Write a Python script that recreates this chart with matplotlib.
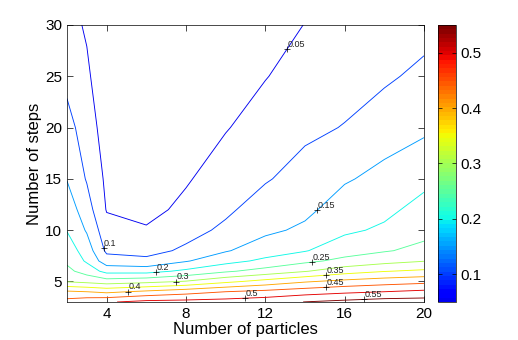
import numpy as np
import matplotlib.pyplot as plt
from matplotlib.colors import Normalize, ListedColormap
from matplotlib.cm import ScalarMappable

plt.rcParams['font.family'] = ['Liberation Sans', 'DejaVu Sans']

# grid
particles = [2, 3, 4, 6, 8, 10, 12, 14, 16, 18, 20]
steps = [3, 4, 5, 6, 7, 8, 10, 12, 15, 20, 25, 30]

# error value per row of steps, one entry per particle count
err_s3 = [0.470, 0.485, 0.495, 0.514, 0.517, 0.521, 0.530, 0.551, 0.563, 0.574, 0.575]
err_s4 = [0.407, 0.400, 0.389, 0.410, 0.430, 0.450, 0.463, 0.477, 0.490, 0.500, 0.511]
err_s5 = [0.296, 0.286, 0.273, 0.285, 0.303, 0.338, 0.367, 0.395, 0.413, 0.426, 0.436]
err_s6 = [0.263, 0.229, 0.184, 0.182, 0.211, 0.243, 0.269, 0.297, 0.329, 0.348, 0.359]
err_s7 = [0.241, 0.193, 0.122, 0.111, 0.146, 0.183, 0.211, 0.239, 0.263, 0.283, 0.298]
err_s8 = [0.227, 0.177, 0.090, 0.085, 0.108, 0.146, 0.176, 0.197, 0.229, 0.246, 0.263]
err_s10 = [0.198, 0.145, 0.069, 0.055, 0.084, 0.109, 0.140, 0.159, 0.191, 0.208, 0.235]
err_s12 = [0.178, 0.123, 0.047, 0.035, 0.062, 0.092, 0.121, 0.139, 0.173, 0.188, 0.217]
err_s15 = [0.148, 0.096, 0.040, 0.030, 0.045, 0.075, 0.096, 0.118, 0.145, 0.164, 0.187]
err_s20 = [0.117, 0.077, 0.025, 0.020, 0.035, 0.047, 0.072, 0.090, 0.102, 0.127, 0.141]
err_s25 = [0.087, 0.057, 0.020, 0.015, 0.030, 0.040, 0.048, 0.070, 0.082, 0.092, 0.112]
err_s30 = [0.065, 0.045, 0.020, 0.015, 0.025, 0.035, 0.040, 0.0505, 0.065, 0.075, 0.082]

levels = [0.05, 0.1, 0.15, 0.2, 0.25, 0.3, 0.35, 0.4, 0.45, 0.5, 0.55]
label_text = ['0.05', '0.1', '0.15', '0.2', '0.25', '0.3', '0.35', '0.4', '0.45', '0.5', '0.55']
# particle count where each level carries its label
label_at = [13.1, 3.85, 14.6, 6.5, 14.35, 7.5, 15.05, 5.1, 15.05, 11.0, 17.0]

Z = np.array([err_s3, err_s4, err_s5, err_s6, err_s7, err_s8, err_s10,
              err_s12, err_s15, err_s20, err_s25, err_s30])
X, Y = np.meshgrid(particles, steps)

# jet without its darkest blue end, 64 steps like MATLAB
jet = plt.get_cmap('jet')
cmap = ListedColormap(jet(np.linspace(0.1, 1.0, 64)))
cmap_lines = ListedColormap(jet(np.linspace(0.1, 1.0, 256)))
norm = Normalize(vmin=0.05, vmax=0.55)

fig = plt.figure(figsize=(5.18, 3.4), dpi=100)
ax = fig.add_axes([0.1293, 0.1118, 0.6892, 0.8147])
cs = ax.contour(X, Y, Z, levels=levels, cmap=cmap_lines, norm=norm, linewidths=0.65)

# MATLAB style labels: a plus on the line and the text beside it
for segs, lx, txt in zip(cs.allsegs, label_at, label_text):
    ly = None
    for seg in segs:
        xs, ys = seg[:, 0], seg[:, 1]
        for j in range(len(xs) - 1):
            if (xs[j] - lx) * (xs[j + 1] - lx) <= 0 and xs[j] != xs[j + 1]:
                t = (lx - xs[j]) / (xs[j + 1] - xs[j])
                ly = ys[j] + t * (ys[j + 1] - ys[j])
                break
        if ly is not None:
            break
    if ly is None:
        continue
    ax.plot(lx, ly, marker='+', color='black', markersize=5, markeredgewidth=0.5)
    ax.annotate(txt, (lx, ly), xytext=(0.3, 0.3), textcoords='offset points',
                ha='left', va='bottom', fontsize=6.5, color='#222222')

ax.set_xlim(2, 20)
ax.set_ylim(3, 30)
ax.set_xticks([4, 8, 12, 16, 20])
ax.set_yticks([5, 10, 15, 20, 25, 30])
ax.tick_params(direction='in', top=True, right=True, length=4, width=0.5, labelsize=11)
for sp in ax.spines.values():
    sp.set_linewidth(0.5)
ax.set_xlabel('Number of particles', fontsize=12, labelpad=1)
ax.set_ylabel('Number of steps', fontsize=12, labelpad=2)

cax = fig.add_axes([0.8456, 0.1118, 0.0347, 0.8147])
cb = fig.colorbar(ScalarMappable(norm=norm, cmap=cmap), cax=cax, ticks=[0.1, 0.2, 0.3, 0.4, 0.5])
cb.ax.tick_params(direction='in', length=3, width=0.5, labelsize=11, left=True, right=True)
cb.outline.set_linewidth(0.5)

fig.savefig('out.png', dpi=100)
